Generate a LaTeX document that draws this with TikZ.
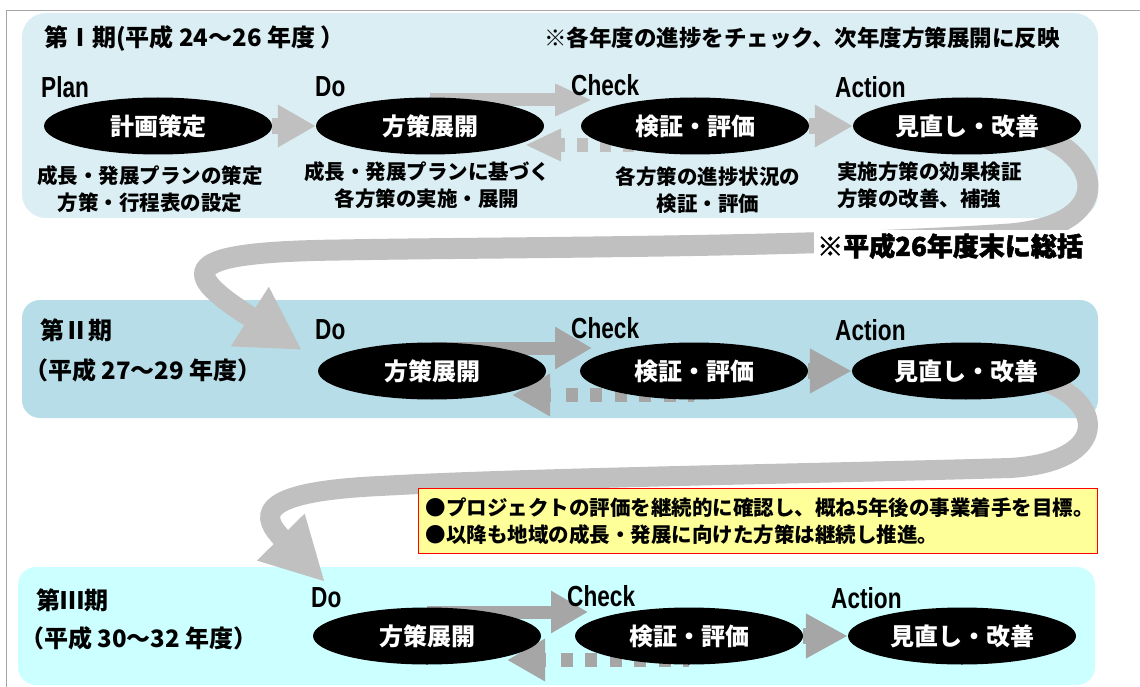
\documentclass[tikz,border=0pt]{standalone}
\usepackage{fontspec}
\usetikzlibrary{shapes.geometric,arrows.meta}
\newfontfamily\jp{Noto Sans CJK JP}
\newfontfamily\jpheavy{Noto Sans CJK JP}[UprightFeatures={FakeBold=2}, BoldFeatures={FakeBold=2}]
\newfontfamily\lat{Liberation Sans}[FakeStretch=0.78]
\definecolor{pone}{HTML}{DAEEF3}
\definecolor{ptwo}{HTML}{B7DEE8}
\definecolor{pthree}{HTML}{CCFFFF}
\definecolor{gla}{HTML}{C0C0C0}
\definecolor{glb}{HTML}{A6A6A6}
\definecolor{yel}{HTML}{FFFF99}
\definecolor{framec}{HTML}{A6A6A6}
\pgfdeclarelayer{back}
\pgfdeclarelayer{mid}
\pgfsetlayers{back,mid,main}
\tikzset{
 ttl/.style={anchor=west, inner sep=0pt, font=\jp\bfseries\fontsize{24pt}{26pt}\selectfont},
 lab/.style={anchor=west, inner sep=0pt, font=\lat\bfseries\fontsize{29pt}{30pt}\selectfont},
 ell/.style={ellipse, fill=black, minimum width=228pt, minimum height=57pt, inner sep=0pt, text=white, font=\jp\bfseries\fontsize{24pt}{25pt}\selectfont},
 sub/.style={inner sep=0pt, align=center, font=\jp\bfseries\fontsize{20.5pt}{27pt}\selectfont},
 fwdone/.style={gla, line width=13pt, -{Triangle[length=37pt,width=30pt]}},
 backone/.style={gla, line width=14pt, {Triangle[length=36pt,width=30pt]}-, dash pattern=on 6pt off 12pt on 11pt off 12pt on 11pt off 12pt on 11pt off 12pt on 11pt off 12pt on 11pt off 12pt on 11pt off 12pt},
 nextone/.style={gla, line width=16pt, -{Triangle[length=38pt,width=40pt]}},
 fwdtwo/.style={glb, line width=13pt, -{Triangle[length=37pt,width=40pt]}},
 backtwo/.style={glb, line width=14pt, {Triangle[length=38pt,width=40pt]}-, dash pattern=on 3pt off 15pt on 12pt off 12.5pt on 12pt off 12.5pt on 12pt off 12.5pt on 12pt off 12.5pt on 12pt off 12.5pt on 12pt off 12.5pt},
 nexttwo/.style={glb, line width=16pt, -{Triangle[length=42pt,width=42pt]}},
 bigarrow/.style={gla, line width=21pt},
}
\begin{document}
\begin{tikzpicture}[x=1pt,y=-1pt]
\useasboundingbox (0,0) rectangle (1140,687);
\begin{pgfonlayer}{back}
\fill[white] (0,0) rectangle (1140,687);
\draw[framec, line width=1pt] (6,687) -- (6,11) -- (1140,11);
\fill[pone, rounded corners=24pt] (22,13) rectangle (1098,218);
\fill[ptwo, rounded corners=18pt] (22,300) rectangle (1098,418);
\fill[pthree, rounded corners=18pt] (18,567) rectangle (1095,685);
\end{pgfonlayer}

% ---------- panel 1 ----------
\node[ttl] (t1) at (44,38) {第Ⅰ期(平成 24～26 年度 ）};
\node[ttl, anchor=east, font=\jp\bfseries\fontsize{22.5pt}{26pt}\selectfont] (n1) at (1060,38) {※各年度の進捗をチェック、次年度方策展開に反映};
\node[lab] (l11) at (41,87) {Plan};
\node[lab] (l12) at (315,87) {Do};
\node[lab] (l13) at (571,85) {Check};
\node[lab] (l14) at (835,87) {Action};
\node[ell] (e11) at (158,126) {計画策定};
\node[ell] (e12) at (430,126) {方策展開};
\node[ell] (e13) at (695,126) {検証・評価};
\node[ell] (e14) at (967,126) {見直し・改善};
\node[sub] (s11) at (150,189) {成長・発展プランの策定\\方策・行程表の設定};
\node[sub] (s12) at (427,185) {成長・発展プランに基づく\\各方策の実施・展開};
\node[sub] (s13) at (708,190) {各方策の進捗状況の\\検証・評価};
\node[sub, align=left, anchor=west] (s14) at (837,185) {実施方策の効果検証\\方策の改善、補強};
\node[fill=white, inner sep=3pt, anchor=west, font=\jpheavy\bfseries\fontsize{26pt}{28pt}\selectfont] (sum) at (814,246) {※平成26年度末に総括};

% ---------- panel 2 ----------
\node[ttl] (t2) at (40,330) {第Ⅱ期};
\node[ttl] (t2b) at (24,370) {（平成 27～29 年度）};
\node[lab] (l22) at (315,330) {Do};
\node[lab] (l23) at (571,328) {Check};
\node[lab] (l24) at (835,330) {Action};
\node[ell] (e22) at (432,371) {方策展開};
\node[ell] (e23) at (694,371) {検証・評価};
\node[ell] (e24) at (966,371) {見直し・改善};

% ---------- note ----------
\node[draw=red, fill=yel, line width=1pt, anchor=north west, minimum width=679pt, minimum height=65pt, text width=665pt, inner xsep=7pt, inner ysep=4pt, align=left, font=\jp\bfseries\fontsize{20.5pt}{27pt}\selectfont] (note) at (418,488) {●プロジェクトの評価を継続的に確認し、概ね5年後の事業着手を目標。\\●以降も地域の成長・発展に向けた方策は継続し推進。};

% ---------- panel 3 ----------
\node[ttl] (t3) at (36,600) {第Ⅲ期};
\node[ttl] (t3b) at (20,638) {（平成 30～32 年度）};
\node[lab] (l32) at (311,598) {Do};
\node[lab] (l33) at (567,596) {Check};
\node[lab] (l34) at (831,598) {Action};
\node[ell] (e32) at (427,636) {方策展開};
\node[ell] (e33) at (689,636) {検証・評価};
\node[ell] (e34) at (962,636) {見直し・改善};

% ---------- coordinates ----------
\coordinate (f1) at (592,100);
\coordinate (b1) at (525,145);
\coordinate (f2) at (592,348);
\coordinate (b2) at (512,395);
\coordinate (f3) at (588,612);
\coordinate (b3) at (507,660);
\coordinate (a1s) at (1040,135);
\coordinate (a1t) at (302,350);
\coordinate (a2s) at (1040,380);
\coordinate (a2t) at (325,582);

\begin{pgfonlayer}{mid}
% panel 1
\draw[nextone] (e11) -- (e12.west);
\draw[fwdone] (e12.center |- f1) -- (f1);
\draw[backone] (b1) -- (e13.center |- b1);
\draw[nextone] (e13) -- (e14.west);
% panel 2
\draw[fwdtwo] (e22.center |- f2) -- (f2);
\draw[backtwo] (b2) -- (e23.center |- b2);
\draw[nexttwo] (e23) -- (e24.west);
% panel 3
\draw[fwdtwo] (e32.center |- f3) -- (f3);
\draw[backtwo] (b3) -- (e33.center |- b3);
\draw[nexttwo] (e33) -- (e34.west);
% big arrows
\draw[bigarrow, -{Triangle[length=62pt,width=66pt]}] (a1s) .. controls (1105,160) and (1112,225) .. (1010,234) .. controls (800,248) and (500,247) .. (340,250) .. controls (175,252) and (180,272) .. (a1t);
\draw[bigarrow, line width=20pt, -{Triangle[length=63pt,width=62pt]}] (a2s) .. controls (1105,400) and (1112,462) .. (1010,468) .. controls (800,474) and (520,478) .. (380,486) .. controls (250,492) and (262,518) .. (a2t);
\end{pgfonlayer}
\end{tikzpicture}
\end{document}
